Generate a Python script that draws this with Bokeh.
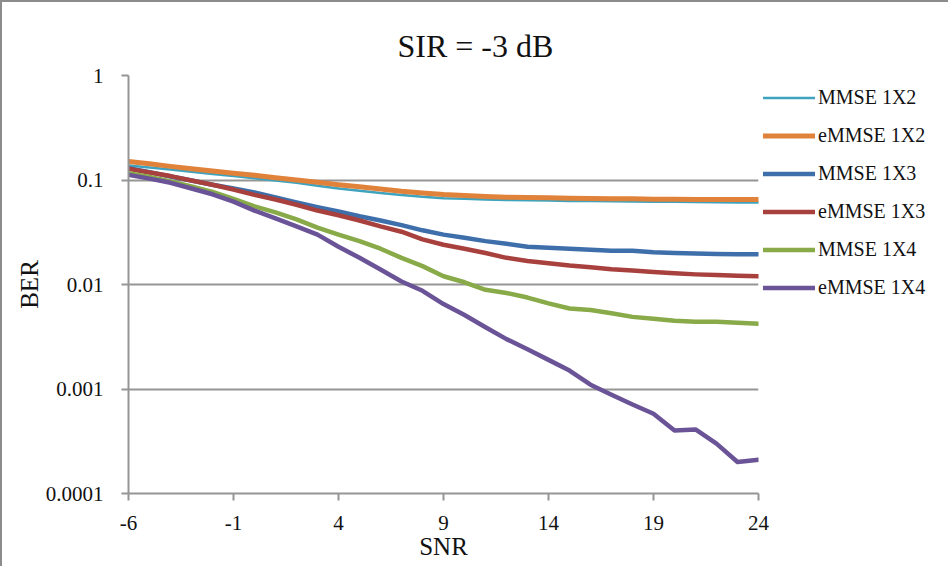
from bokeh.plotting import figure
from bokeh.models import (Range1d, FixedTicker, Legend, LegendItem, ColumnDataSource)
from bokeh.embed import file_html
from bokeh.resources import INLINE

snr = list(range(-6, 25))

mmse_1x2 = [0.138, 0.132, 0.126, 0.120, 0.114, 0.109, 0.104, 0.099, 0.094, 0.088, 0.083,
            0.079, 0.075, 0.072, 0.069, 0.067, 0.066, 0.065, 0.0645, 0.064, 0.0635,
            0.063, 0.0628, 0.0625, 0.0622, 0.062, 0.0618, 0.0615, 0.0612, 0.061, 0.061]
emmse_1x2 = [0.150, 0.143, 0.135, 0.128, 0.122, 0.116, 0.111, 0.105, 0.100, 0.095, 0.090,
             0.086, 0.082, 0.078, 0.075, 0.0725, 0.071, 0.0695, 0.0685, 0.068, 0.0675,
             0.067, 0.0665, 0.066, 0.066, 0.0655, 0.0655, 0.065, 0.065, 0.065, 0.065]
mmse_1x3 = [0.130, 0.119, 0.108, 0.099, 0.090, 0.083, 0.076, 0.068, 0.061, 0.055, 0.050,
            0.045, 0.041, 0.037, 0.033, 0.030, 0.028, 0.026, 0.0245, 0.023, 0.0225,
            0.022, 0.0215, 0.021, 0.021, 0.0203, 0.020, 0.0198, 0.0196, 0.0195, 0.0195]
emmse_1x3 = [0.128, 0.118, 0.109, 0.099, 0.090, 0.081, 0.072, 0.065, 0.058, 0.051, 0.046,
             0.041, 0.036, 0.032, 0.027, 0.024, 0.022, 0.020, 0.018, 0.0168, 0.016,
             0.0152, 0.0146, 0.014, 0.0136, 0.0132, 0.0128, 0.0125, 0.0123, 0.0121, 0.012]
mmse_1x4 = [0.116, 0.107, 0.097, 0.087, 0.077, 0.066, 0.056, 0.049, 0.042, 0.035, 0.030,
            0.026, 0.022, 0.018, 0.015, 0.012, 0.0105, 0.0089, 0.0083, 0.0075, 0.0066,
            0.0059, 0.0057, 0.0053, 0.0049, 0.0047, 0.0045, 0.0044, 0.0044, 0.0043, 0.0042]
emmse_1x4 = [0.112, 0.103, 0.094, 0.083, 0.073, 0.062, 0.051, 0.043, 0.036, 0.030, 0.023,
             0.018, 0.0139, 0.0107, 0.0087, 0.0065, 0.0051, 0.0039, 0.0030, 0.0024, 0.0019,
             0.0015, 0.0011, 0.00088, 0.00071, 0.00058, 0.00040, 0.00041, 0.00030, 0.00020, 0.00021]

series_names = ["MMSE 1X2", "eMMSE 1X2", "MMSE 1X3", "eMMSE 1X3", "MMSE 1X4", "eMMSE 1X4"]
series_values = [mmse_1x2, emmse_1x2, mmse_1x3, emmse_1x3, mmse_1x4, emmse_1x4]
series_colors = ["#3FA3BE", "#E1823A", "#3F6FAA", "#A8403D", "#88AA48", "#6A5497"]
series_widths = [2.5, 5, 4.5, 4.5, 4.5, 4.5]

x_ticks = [-6, -1, 4, 9, 14, 19, 24]
x_tick_labels = ["-6", "-1", "4", "9", "14", "19", "24"]
y_ticks = [0.0001, 0.001, 0.01, 0.1, 1]
y_tick_labels = ["0.0001", "0.001", "0.01", "0.1", "1"]

SERIF = "Liberation Serif"
GRAY = "#959595"

p = figure(frame_width=630, frame_height=418,
           min_border_left=126, min_border_right=182,
           min_border_top=73, min_border_bottom=73,
           x_range=Range1d(-6, 24), y_range=Range1d(0.0001, 1),
           y_axis_type="log", output_backend="svg", toolbar_location=None,
           title="SIR = -3 dB")
p.styles = {"border-left": "2px solid #8c8c8c", "border-top": "2px solid #8c8c8c"}
p.outline_line_color = None
p.background_fill_color = "white"
p.border_fill_color = "white"

p.title.text_font = SERIF
p.title.text_font_size = "32px"
p.title.text_font_style = "normal"
p.title.text_color = "#111111"
p.title.align = "left"
p.title.offset = 269
p.title.standoff = 23

p.xgrid.visible = False
p.ygrid.grid_line_color = GRAY
p.ygrid.grid_line_width = 2
p.ygrid.ticker = FixedTicker(ticks=y_ticks)

for ax in (p.xaxis[0], p.yaxis[0]):
    ax.axis_line_color = GRAY
    ax.axis_line_width = 2
    ax.major_tick_line_color = GRAY
    ax.major_tick_line_width = 2
    ax.major_tick_in = 0
    ax.major_tick_out = 7
    ax.minor_tick_line_color = None
    ax.major_label_text_font = SERIF
    ax.major_label_text_font_size = "21px"
    ax.major_label_text_color = "#111111"
    ax.axis_label_text_font = SERIF
    ax.axis_label_text_font_size = "25px"
    ax.axis_label_text_font_style = "normal"
    ax.axis_label_text_color = "#111111"

p.xaxis.ticker = FixedTicker(ticks=x_ticks)
p.xaxis.major_label_overrides = {t: s for t, s in zip(x_ticks, x_tick_labels)}
p.xaxis.major_label_standoff = 15
p.xaxis.axis_label = "SNR"
p.xaxis.axis_label_standoff = 0

p.yaxis.ticker = FixedTicker(ticks=y_ticks)
p.yaxis.major_label_overrides = {t: s for t, s in zip(y_ticks, y_tick_labels)}
p.yaxis.major_label_standoff = 18
p.yaxis.axis_label = "BER"
p.yaxis.axis_label_standoff = 0

items = []
for name, vals, col, w in zip(series_names, series_values, series_colors, series_widths):
    src = ColumnDataSource(dict(x=snr, y=vals))
    r = p.line("x", "y", source=src, line_color=col, line_width=w,
               line_cap="round", line_join="round")
    items.append(LegendItem(label=name, renderers=[r]))

legend = Legend(items=items, location=(5, 194), orientation="vertical",
                glyph_width=52, glyph_height=23, label_height=23, spacing=15,
                label_standoff=3, padding=0, margin=0,
                border_line_alpha=0, background_fill_alpha=0,
                label_text_font=SERIF, label_text_font_size="20px",
                label_text_color="#111111")
p.add_layout(legend, "right")

open("out.html", "w").write(file_html(p, INLINE))
